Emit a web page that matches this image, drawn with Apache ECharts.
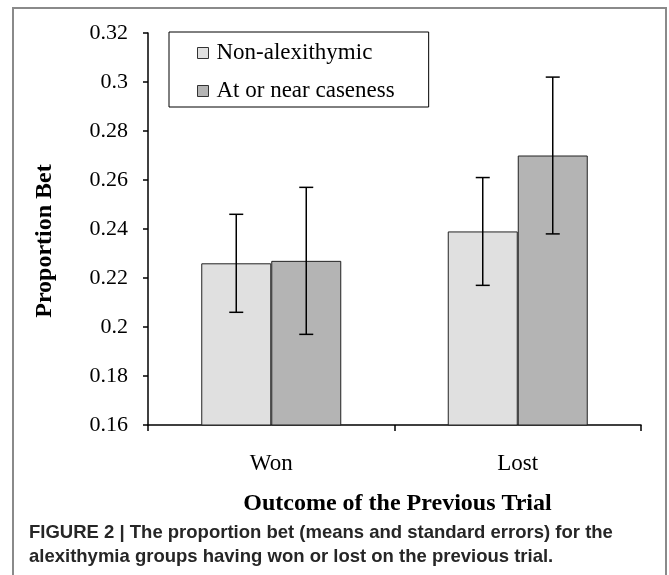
<!DOCTYPE html>
<html>
<head>
<meta charset="utf-8">
<script src="https://cdn.jsdelivr.net/npm/echarts@6/dist/echarts.min.js"></script>
<style>
html,body{margin:0;padding:0;background:#fff;}
#chart{width:669px;height:575px;}
</style>
</head>
<body>
<div id="chart"></div>
<script>
var categories = ['Won', 'Lost'];
var seriesNames = ['Non-alexithymic', 'At or near caseness'];
var nonAlexMeans = [0.226, 0.239];
var nonAlexErrors = [0.020, 0.022];
var casenessMeans = [0.227, 0.270];
var casenessErrors = [0.030, 0.032];
var yMin = 0.16, yMax = 0.32, yStep = 0.02;
var yTitle = 'Proportion Bet';
var xTitle = 'Outcome of the Previous Trial';
var captionLines = [
  'FIGURE 2 | The proportion bet (means and standard errors) for the',
  'alexithymia groups having won or lost on the previous trial.'
];

var BAR_W = 70;
var serif = '"Liberation Serif", "Times New Roman", serif';

function errData(means, errs) {
  return means.map(function (m, i) { return [i, m - errs[i], m + errs[i]]; });
}
function errSeries(means, errs, offset) {
  return {
    type: 'custom',
    silent: true,
    z: 10,
    data: errData(means, errs),
    renderItem: function (params, api) {
      var lo = api.coord([api.value(0), api.value(1)]);
      var hi = api.coord([api.value(0), api.value(2)]);
      var x = lo[0] + offset;
      var cap = 7;
      var st = { stroke: '#000', lineWidth: 1.5 };
      return {
        type: 'group',
        children: [
          { type: 'line', shape: { x1: x, y1: lo[1], x2: x, y2: hi[1] }, style: st },
          { type: 'line', shape: { x1: x - cap, y1: lo[1], x2: x + cap, y2: lo[1] }, style: st },
          { type: 'line', shape: { x1: x - cap, y1: hi[1], x2: x + cap, y2: hi[1] }, style: st }
        ]
      };
    }
  };
}

var chart = echarts.init(document.getElementById('chart'));
chart.setOption({
  animation: false,
  backgroundColor: '#fff',
  grid: { left: 148, right: 28, top: 33, bottom: 150 },
  legend: {
    orient: 'vertical',
    left: 169,
    top: 32,
    data: seriesNames,
    backgroundColor: '#fff',
    borderColor: '#000',
    borderWidth: 1,
    padding: [9, 34, 4, 28],
    itemGap: 14,
    itemWidth: 11,
    itemHeight: 11,
    icon: 'rect',
    itemStyle: { borderColor: '#333', borderWidth: 1 },
    textStyle: { fontFamily: serif, fontSize: 23, color: '#000', padding: [0, 0, 0, 3], lineHeight: 24 }
  },
  xAxis: {
    type: 'category',
    data: categories,
    axisLine: { lineStyle: { color: '#000', width: 1.5 } },
    axisTick: { show: true, length: 6, lineStyle: { color: '#000', width: 1.5 } },
    axisLabel: { color: '#000', fontFamily: serif, fontSize: 23, margin: 27 },
    name: xTitle,
    nameLocation: 'middle',
    nameGap: 67,
    nameTextStyle: { fontFamily: serif, fontWeight: 'bold', fontSize: 24, color: '#000', padding: [0, 0, 0, 6] }
  },
  yAxis: {
    type: 'value',
    min: yMin,
    max: yMax,
    interval: yStep,
    axisLine: { show: true, lineStyle: { color: '#000', width: 1.5 } },
    axisTick: { show: true, length: 5, lineStyle: { color: '#000', width: 1.5 } },
    splitLine: { show: false },
    axisLabel: {
      color: '#000', fontFamily: serif, fontSize: 22, margin: 20,
      formatter: function (v) { return String(parseFloat(v.toFixed(2))); }
    }
  },
  series: [
    {
      name: seriesNames[0], type: 'bar', data: nonAlexMeans, barWidth: BAR_W, barGap: '0%',
      itemStyle: { color: '#e0e0e0', borderColor: '#222', borderWidth: 1 }
    },
    {
      name: seriesNames[1], type: 'bar', data: casenessMeans, barWidth: BAR_W, barGap: '0%',
      itemStyle: { color: '#b4b4b4', borderColor: '#222', borderWidth: 1 }
    },
    errSeries(nonAlexMeans, nonAlexErrors, -BAR_W / 2),
    errSeries(casenessMeans, casenessErrors, BAR_W / 2)
  ],
  graphic: [
    {
      type: 'rect', silent: true, z: 100,
      shape: { x: 13, y: 8, width: 653, height: 600 },
      style: { fill: 'none', stroke: '#8a8a8a', lineWidth: 2 }
    },
    {
      type: 'text', silent: true, x: 45, y: 241, rotation: Math.PI / 2,
      style: {
        text: yTitle, align: 'center', verticalAlign: 'middle',
        fontFamily: serif, fontWeight: 'bold', fontSize: 24, fill: '#000'
      }
    },
    {
      type: 'text', left: 29, top: 521, silent: true,
      style: {
        text: captionLines.join('\n'),
        fontFamily: '"Liberation Sans", Arial, sans-serif',
        fontWeight: 'bold', fontSize: 18.5, lineHeight: 24, fill: '#262626'
      }
    }
  ]
});
</script>
</body>
</html>
